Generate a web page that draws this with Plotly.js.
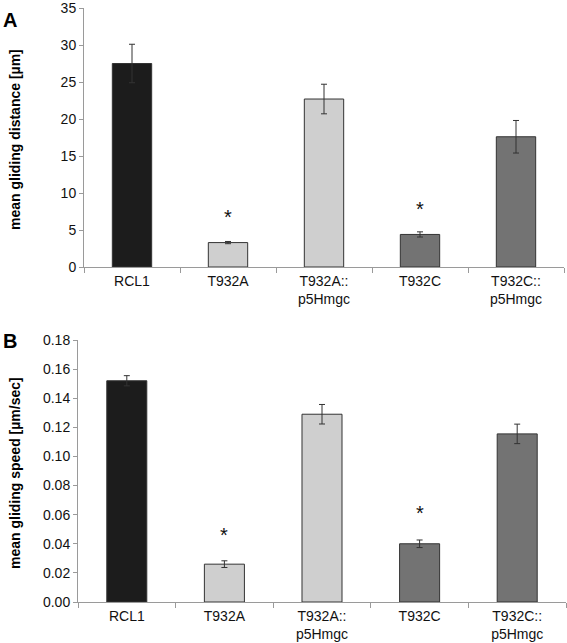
<!DOCTYPE html>
<html>
<head>
<meta charset="utf-8">
<script src="https://cdn.plot.ly/plotly-3.0.1.min.js"></script>
<style>
html,body{margin:0;padding:0;background:#fff;}
#chart{width:567px;height:643px;}
</style>
</head>
<body>
<div id="chart"></div>
<script>
const categories = ["RCL1", "T932A", "T932A::<br>p5Hmgc", "T932C", "T932C::<br>p5Hmgc"];
const barColors = ["#1c1c1c", "#cfcfcf", "#cfcfcf", "#737373", "#737373"];

const distance = [27.5, 3.3, 22.7, 4.4, 17.6];
const distanceErr = [2.6, 0.15, 2.0, 0.35, 2.2];

const speed = [0.152, 0.026, 0.129, 0.040, 0.1155];
const speedErr = [0.0035, 0.0023, 0.0067, 0.0026, 0.0067];

const starCats = ["T932A", "T932C"];
const starDistance = [6.7, 7.9];
const starSpeed = [0.046, 0.061];

const FONT = "'Liberation Sans', Arial, Helvetica, sans-serif";
const AX = "#9a9a9a";

function barTrace(vals, errs, xa, ya) {
  return {
    type: "bar",
    x: categories,
    y: vals,
    xaxis: xa, yaxis: ya,
    width: 0.41,
    marker: {color: barColors, line: {color: "#333333", width: 1}},
    error_y: {type: "data", array: errs, visible: true, color: "#333333", thickness: 1, width: 3},
    hoverinfo: "x+y",
    showlegend: false
  };
}

const data = [
  barTrace(distance, distanceErr, "x", "y"),
  barTrace(speed, speedErr, "x2", "y2")
];

const annotations = [];
starCats.forEach((c, i) => {
  annotations.push({xref: "x", yref: "y", x: c, y: starDistance[i], text: "*", showarrow: false,
    font: {family: FONT, size: 20, color: "#111"}, yanchor: "middle"});
  annotations.push({xref: "x2", yref: "y2", x: c, y: starSpeed[i], text: "*", showarrow: false,
    font: {family: FONT, size: 20, color: "#111"}, yanchor: "middle"});
});
annotations.push({xref: "paper", yref: "paper", x: 1/567, y: 1 - 20/643, xanchor: "left", yanchor: "middle",
  text: "<b>A</b>", showarrow: false, font: {family: FONT, size: 20, color: "#000"}});
annotations.push({xref: "paper", yref: "paper", x: 1/567, y: 1 - 341/643, xanchor: "left", yanchor: "middle",
  text: "<b>B</b>", showarrow: false, font: {family: FONT, size: 20, color: "#000"}});
annotations.push({xref: "paper", yref: "paper", x: 15/567, y: 1 - 140/643, xanchor: "center", yanchor: "middle",
  text: "<b>mean gliding distance [µm]</b>", textangle: -90, showarrow: false, font: {family: FONT, size: 14, color: "#000"}});
annotations.push({xref: "paper", yref: "paper", x: 15/567, y: 1 - 473/643, xanchor: "center", yanchor: "middle",
  text: "<b>mean gliding speed [µm/sec]</b>", textangle: -90, showarrow: false, font: {family: FONT, size: 14, color: "#000"}});

const xCommon = {
  type: "category", range: [-0.5, 4.5], showline: true, linecolor: AX, linewidth: 1,
  ticks: "outside", tickson: "boundaries", ticklen: 5, tickcolor: AX, tickwidth: 1,
  ticklabelstandoff: 1,
  showgrid: false, zeroline: false, tickfont: {family: FONT, size: 14, color: "#111"}, fixedrange: true
};
const yCommon = {
  showline: true, linecolor: AX, linewidth: 1, ticks: "outside", ticklen: 4, tickcolor: AX,
  ticklabeloverflow: "allow",
  showgrid: false, zeroline: false, tickfont: {family: FONT, size: 14, color: "#111"}, fixedrange: true
};

const layout = {
  width: 567, height: 643,
  margin: {l: 0, r: 0, t: 0, b: 0},
  paper_bgcolor: "#fff", plot_bgcolor: "#fff",
  font: {family: FONT},
  xaxis: Object.assign({}, xCommon, {domain: [84/567, 564/567], anchor: "y"}),
  yaxis: Object.assign({}, yCommon, {domain: [1 - 267/643, 1 - 8/643], anchor: "x", range: [0, 35], dtick: 5, tick0: 0}),
  xaxis2: Object.assign({}, xCommon, {domain: [78/567, 566/567], anchor: "y2"}),
  yaxis2: Object.assign({}, yCommon, {domain: [1 - 602/643, 1 - 340/643], anchor: "x2", range: [0, 0.18], dtick: 0.02, tick0: 0, tickformat: ".2f"}),
  annotations: annotations
};

Plotly.newPlot("chart", data, layout, {displayModeBar: false, staticPlot: true});
</script>
</body>
</html>
